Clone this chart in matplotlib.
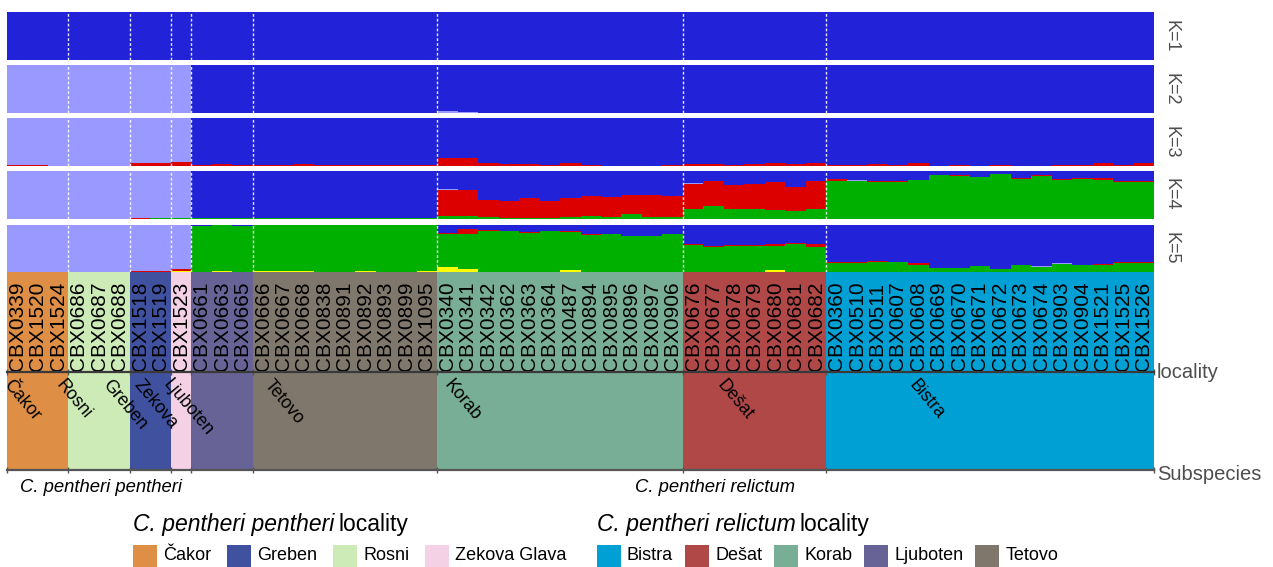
import matplotlib
matplotlib.use('Agg')
import matplotlib.pyplot as plt
import numpy as np
from matplotlib.patches import Rectangle

plt.rcParams['font.family'] = ['Liberation Sans', 'DejaVu Sans']

# ---------------- data ----------------
samples = ['CBX0339', 'CBX1520', 'CBX1524',
           'CBX0686', 'CBX0687', 'CBX0688',
           'CBX1518', 'CBX1519',
           'CBX1523',
           'CBX0661', 'CBX0663', 'CBX0665',
           'CBX0666', 'CBX0667', 'CBX0668', 'CBX0838', 'CBX0891', 'CBX0892', 'CBX0893', 'CBX0899', 'CBX1095',
           'CBX0340', 'CBX0341', 'CBX0342', 'CBX0362', 'CBX0363', 'CBX0364', 'CBX0487', 'CBX0894', 'CBX0895',
           'CBX0896', 'CBX0897', 'CBX0906',
           'CBX0676', 'CBX0677', 'CBX0678', 'CBX0679', 'CBX0680', 'CBX0681', 'CBX0682',
           'CBX0360', 'CBX0510', 'CBX0511', 'CBX0607', 'CBX0608', 'CBX0669', 'CBX0670', 'CBX0671', 'CBX0672',
           'CBX0673', 'CBX0674', 'CBX0903', 'CBX0904', 'CBX1521', 'CBX1525', 'CBX1526']

localities = ['Čakor', 'Rosni', 'Greben', 'Zekova', 'Ljuboten', 'Tetovo', 'Korab', 'Dešat', 'Bistra']
locality_counts = [3, 3, 2, 1, 3, 9, 12, 7, 16]
locality_colors = ['#DE8E45', '#CCEBB6', '#3F519F', '#F5D1E6', '#676397', '#7F776B', '#79AE96', '#B04848', '#00A0D4']

subspecies = ['C. pentheri pentheri', 'C. pentheri relictum']

legend_pentheri = ['Čakor', 'Greben', 'Rosni', 'Zekova Glava']
legend_pentheri_colors = ['#DE8E45', '#3F519F', '#CCEBB6', '#F5D1E6']
legend_relictum = ['Bistra', 'Dešat', 'Korab', 'Ljuboten', 'Tetovo']
legend_relictum_colors = ['#00A0D4', '#B04848', '#79AE96', '#676397', '#7F776B']

k_labels = ['K=1', 'K=2', 'K=3', 'K=4', 'K=5']

# cluster colours (stacked bottom -> top: yellow, green, red, lavender, blue)
c_yellow, c_green, c_red, c_lav, c_blue = '#FFFF00', '#00B000', '#DD0000', '#9999FF', '#2222D8'

# K=2 lavender share
lav2 = [1, 1, 1, 1, 1, 1, 1, 1, 1,
        0, 0, 0,
        0, 0, 0, 0, 0, 0, 0, 0, 0,
        0.04, 0.02, 0, 0, 0, 0, 0, 0, 0, 0, 0, 0,
        0, 0, 0, 0, 0, 0, 0,
        0, 0, 0, 0, 0, 0, 0, 0, 0, 0, 0, 0, 0, 0, 0, 0]

# K=3
red3 = [0.02, 0.02, 0, 0, 0, 0, 0.06, 0.06, 0.07,
        0.02, 0.03, 0.02,
        0.02, 0.02, 0.035, 0.01, 0.01, 0.01, 0.01, 0.01, 0.01,
        0.15, 0.15, 0.05, 0.03, 0.03, 0.02, 0.05, 0.02, 0, 0, 0, 0.02,
        0.04, 0.04, 0.02, 0.03, 0.05, 0.04, 0.05,
        0.01, 0.02, 0.04, 0.01, 0.06, 0, 0.01, 0, 0.02, 0, 0, 0.01, 0.01, 0.05, 0.02, 0.05]
lav3 = [0.98, 0.98, 1, 1, 1, 1, 0.94, 0.94, 0.93,
        0, 0, 0,
        0, 0, 0, 0, 0, 0, 0, 0, 0,
        0, 0, 0, 0, 0, 0, 0, 0, 0, 0, 0, 0,
        0, 0, 0, 0, 0, 0, 0,
        0, 0, 0, 0, 0, 0, 0, 0, 0, 0, 0, 0, 0, 0, 0, 0]

# K=4
green4 = [0, 0, 0, 0, 0, 0, 0, 0.01, 0.01,
          0.01, 0.02, 0.01,
          0.01, 0.01, 0.01, 0.01, 0.01, 0.01, 0.01, 0.01, 0.01,
          0.06, 0.06, 0.03, 0.02, 0.02, 0.02, 0.04, 0.06, 0.04, 0.10, 0.04, 0.04,
          0.19, 0.27, 0.21, 0.19, 0.17, 0.15, 0.21,
          0.78, 0.79, 0.77, 0.77, 0.81, 0.92, 0.90, 0.875, 0.94, 0.83, 0.90, 0.81, 0.83, 0.81, 0.77, 0.77]
red4 = [0, 0, 0, 0, 0, 0, 0.01, 0, 0,
        0, 0, 0,
        0, 0, 0, 0, 0, 0, 0, 0, 0,
        0.54, 0.54, 0.37, 0.35, 0.42, 0.34, 0.40, 0.42, 0.42, 0.40, 0.46, 0.44,
        0.54, 0.52, 0.50, 0.54, 0.60, 0.52, 0.58,
        0.055, 0.01, 0.02, 0.01, 0, 0, 0.02, 0, 0, 0.02, 0.02, 0.02, 0.02, 0.05, 0.02, 0.02]
lav4 = [0.99, 0.99, 0.99, 0.99, 0.99, 0.99, 0.98, 0.98, 0.98,
        0, 0, 0,
        0, 0, 0, 0, 0, 0, 0, 0, 0,
        0.02, 0, 0, 0, 0, 0, 0, 0, 0, 0, 0, 0,
        0.02, 0, 0, 0, 0, 0, 0,
        0, 0.01, 0, 0, 0, 0, 0, 0, 0, 0, 0, 0, 0, 0, 0, 0]

# K=5
yellow5 = [0.01, 0.01, 0, 0, 0, 0, 0.01, 0.01, 0.03,
           0, 0.03, 0,
           0.02, 0.02, 0.02, 0.01, 0.01, 0.02, 0.01, 0.01, 0.02,
           0.11, 0.06, 0.01, 0.01, 0.01, 0.01, 0.035, 0.01, 0.01, 0.01, 0.01, 0.01,
           0.01, 0.01, 0.01, 0.01, 0.04, 0.01, 0.01,
           0.01, 0.01, 0.01, 0.01, 0.01, 0.01, 0.01, 0.01, 0.01, 0.01, 0.01, 0.01, 0.01, 0.01, 0.01, 0.01]
green5 = [0, 0, 0, 0, 0, 0, 0, 0, 0,
          0.97, 0.95, 0.97,
          0.96, 0.96, 0.96, 0.97, 0.97, 0.96, 0.97, 0.97, 0.96,
          0.68, 0.73, 0.85, 0.85, 0.82, 0.86, 0.81, 0.76, 0.80, 0.74, 0.74, 0.78,
          0.56, 0.51, 0.54, 0.54, 0.51, 0.58, 0.51,
          0.18, 0.18, 0.21, 0.20, 0.14, 0.07, 0.08, 0.11, 0.05, 0.14, 0.09, 0.16, 0.14, 0.13, 0.18, 0.18]
red5 = [0, 0, 0, 0, 0, 0, 0.02, 0.02, 0.04,
        0, 0, 0,
        0, 0, 0, 0, 0, 0, 0, 0, 0,
        0.04, 0.11, 0.02, 0.01, 0.02, 0, 0.02, 0.02, 0, 0, 0, 0.02,
        0.02, 0.02, 0.02, 0.01, 0.04, 0.02, 0.06,
        0.03, 0.02, 0.01, 0, 0.04, 0, 0, 0, 0, 0, 0, 0, 0, 0.03, 0.03, 0.03]
lav5 = [0.99, 0.99, 1, 1, 1, 1, 0.97, 0.97, 0.93,
        0, 0, 0,
        0, 0, 0, 0, 0, 0, 0, 0, 0,
        0, 0, 0, 0, 0, 0, 0, 0, 0, 0, 0, 0,
        0, 0, 0, 0, 0, 0, 0,
        0, 0, 0, 0, 0, 0, 0, 0, 0, 0, 0.02, 0.02, 0, 0, 0, 0]

ones = [1] * len(samples)
K_data = [
    [(ones, c_blue)],
    [(lav2, c_lav)],
    [(red3, c_red), (lav3, c_lav)],
    [(green4, c_green), (red4, c_red), (lav4, c_lav)],
    [(yellow5, c_yellow), (green5, c_green), (red5, c_red), (lav5, c_lav)],
]

# ---------------- layout ----------------
W, H = 1273, 567
fig = plt.figure(figsize=(W / 100, H / 100), dpi=100)


def rect(x0, y0, x1, y1):
    return [x0 / W, 1 - y1 / H, (x1 - x0) / W, (y1 - y0) / H]


n = len(samples)
x = np.arange(n)
X0, X1 = 7, 1154
panel_tops = [12, 65, 118, 171, 224.5]
panel_h = 47.5
bounds = np.cumsum(locality_counts)[:-1] - 0.5
starts = np.concatenate([[0], np.cumsum(locality_counts)[:-1]]) - 0.5
centers = starts + np.array(locality_counts) / 2
grey = '#4D4D4D'

for k, (top, comps) in enumerate(zip(panel_tops, K_data)):
    ax = fig.add_axes(rect(X0, top, X1, top + panel_h))
    ax.set_xlim(-0.5, n - 0.5)
    ax.set_ylim(0, 1)
    ax.axis('off')
    bottom = np.zeros(n)
    for vals, col in comps:
        v = np.array(vals, dtype=float)
        ax.bar(x, v, bottom=bottom, width=1.0, color=col, linewidth=0, antialiased=False)
        bottom = bottom + v
    rest = np.clip(1 - bottom, 0, 1)
    ax.bar(x, rest, bottom=bottom, width=1.0, color=c_blue, linewidth=0, antialiased=False)
    for b in bounds:
        ax.axvline(b, color='white', lw=1, ls=(0, (2, 1.5)), alpha=0.9)
    fig.text(1171 / W, 1 - (top + panel_h / 2) / H, k_labels[k], rotation=-90,
             ha='center', va='center', fontsize=13, color=grey)

# sample label strip
ax_s = fig.add_axes(rect(X0, 271.5, X1, 372))
ax_s.set_xlim(-0.5, n - 0.5)
ax_s.set_ylim(0, 1)
ax_s.axis('off')
ax_s.bar(centers, [1] * len(localities), width=locality_counts, color=locality_colors,
         linewidth=0, antialiased=False)
for i, s in enumerate(samples):
    ax_s.text(i, 0.01, s, rotation=90, ha='center', va='bottom', fontsize=15, color='black')

# locality strip
ax_l = fig.add_axes(rect(X0, 372, X1, 470))
ax_l.set_xlim(-0.5, n - 0.5)
ax_l.set_ylim(0, 1)
ax_l.bar(centers, [1] * len(localities), width=locality_counts, color=locality_colors,
         linewidth=0, antialiased=False)
for sp in ['left', 'right']:
    ax_l.spines[sp].set_visible(False)
ax_l.spines['top'].set_color('#3A3A3A')
ax_l.spines['top'].set_linewidth(1.6)
ax_l.spines['bottom'].set_color('#555555')
ax_l.spines['bottom'].set_linewidth(1.6)
ax_l.set_yticks([])
ax_l.set_xticks(np.concatenate([[-0.5], bounds, [n - 0.5]]))
ax_l.tick_params(axis='x', top=True, bottom=True, direction='inout', length=5, width=1,
                 color='#555555', labelbottom=False, labeltop=False)
label_anchor = [-0.2, 2.35, 4.65, 6.15, 7.6, 12.5, 21.3, 34.65, 44.0]
for lab, xa in zip(localities, label_anchor):
    ax_l.text(xa, 0.955, lab, rotation=-50, rotation_mode='anchor', ha='left', va='top',
              fontsize=12.8, color='black')

fig.text(1157 / W, 1 - 372 / H, 'locality', ha='left', va='center', fontsize=14.5, color=grey)
fig.text(1157 / W, 1 - 474 / H, 'Subspecies', ha='left', va='center', fontsize=14.5, color=grey)

# subspecies labels
ax_sub = fig.add_axes(rect(X0, 472, X1, 502))
ax_sub.set_xlim(-0.5, n - 0.5)
ax_sub.set_ylim(0, 1)
ax_sub.axis('off')
for lab, xs in zip(subspecies, [0.13, 30.15]):
    ax_sub.text(xs, 0.5, lab, ha='left', va='center', fontsize=13.3, style='italic', color='black')

# legend (pixel coordinate overlay)
ax_leg = fig.add_axes([0, 0, 1, 1])
ax_leg.set_xlim(0, W)
ax_leg.set_ylim(H, 0)
ax_leg.axis('off')
renderer = fig.canvas.get_renderer()


def text_width(t):
    return t.get_window_extent(renderer=renderer).width


def draw_legend(x_left, title_italic, names, colors, gap):
    t1 = ax_leg.text(x_left, 524, title_italic, ha='left', va='center', fontsize=16.5, style='italic')
    w1 = text_width(t1)
    ax_leg.text(x_left + w1 + 4, 524, 'locality', ha='left', va='center', fontsize=16.5)
    xc = x_left
    for nm, col in zip(names, colors):
        ax_leg.add_patch(Rectangle((xc, 545), 24, 22, facecolor=col, edgecolor='none'))
        t = ax_leg.text(xc + 30, 556, nm, ha='left', va='center', fontsize=13)
        xc = xc + 30 + text_width(t) + gap


draw_legend(133, 'C. pentheri pentheri', legend_pentheri, legend_pentheri_colors, 16)
draw_legend(597, 'C. pentheri relictum', legend_relictum, legend_relictum_colors, 12)

fig.savefig('out.png', dpi=100)
